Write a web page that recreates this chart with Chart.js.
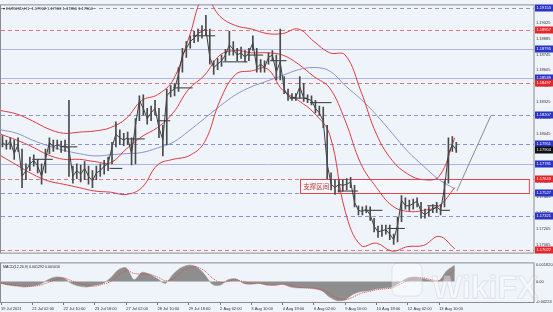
<!DOCTYPE html>
<html>
<head>
<meta charset="utf-8">
<script src="https://cdn.jsdelivr.net/npm/chart.js@4.4.0/dist/chart.umd.min.js"></script>
<style>
  html, body { margin: 0; padding: 0; background: #eef4fa; }
  #wrap { position: relative; width: 553px; height: 312px; overflow: hidden; background: #eef4fa; }
  #main { position: absolute; left: 0; top: 0; }
  #macd { position: absolute; left: 0; top: 258px; }
</style>
</head>
<body>
<div id="wrap">
  <canvas id="main" width="553" height="258"></canvas>
  <canvas id="macd" width="553" height="54"></canvas>
</div>
<script>
// EURUSD H1, 19 Jul - 13 Aug 2021
const symbolTitle = 'EURUSD,H1  1.17962 1.17963 1.17856 1.17904';
const macdTitle = 'MACD(12,26,9) 0.001292 0.001016';

// x axis: bar numbers of the time labels
const xTickIndex = [0, 32, 64, 96, 128, 160, 192, 224, 256, 288, 320, 352, 384, 416, 448];
const xTickLabels = ['19 Jul 2021', '21 Jul 02:00', '22 Jul 10:00', '23 Jul 18:00', '27 Jul 02:00',
  '28 Jul 10:00', '29 Jul 18:00', '2 Aug 02:00', '3 Aug 10:00', '4 Aug 18:00', '6 Aug 02:00',
  '9 Aug 10:00', '10 Aug 18:00', '12 Aug 02:00', '13 Aug 10:00'];

const priceTicks = [1.19025, 1.18885, 1.18745, 1.18605, 1.18465, 1.18325, 1.18185, 1.18045,
  1.17905, 1.17765, 1.17625, 1.17485, 1.17345, 1.17205, 1.17065];
const macdTicks = [0.00182, 0, -0.00224];
const macdTickLabels = ['0.001820', '0.00', '-0.00224'];

// price, one entry per 4 hourly bars
const barStep = 4;
const priceHigh = [1.1803,1.1799,1.1801,1.1799,1.1801,1.1791,1.1778,1.1784,1.1786,1.1782,
  1.1778,1.1791,1.1801,1.1799,1.1799,1.1798,1.1799,1.1834,1.1776,1.1778,
  1.1777,1.1780,1.1776,1.1772,1.1776,1.1778,1.1781,1.1784,1.1797,1.1815,
  1.1808,1.1805,1.1806,1.1801,1.1818,1.1838,1.1839,1.1827,1.1829,1.1834,
  1.1827,1.1812,1.1844,1.1847,1.1849,1.1863,1.1880,1.1886,1.1891,1.1895,
  1.1897,1.1900,1.1909,1.1897,1.1869,1.1871,1.1874,1.1879,1.1895,1.1886,
  1.1880,1.1881,1.1878,1.1880,1.1891,1.1880,1.1870,1.1869,1.1876,1.1878,
  1.1874,1.1897,1.1855,1.1844,1.1840,1.1840,1.1855,1.1849,1.1839,1.1838,
  1.1834,1.1829,1.1828,1.1812,1.1770,1.1764,1.1764,1.1764,1.1765,1.1766,
  1.1759,1.1741,1.1740,1.1741,1.1740,1.1730,1.1723,1.1724,1.1724,1.1724,
  1.1716,1.1731,1.1750,1.1748,1.1746,1.1747,1.1748,1.1744,1.1738,1.1740,
  1.1742,1.1744,1.1742,1.1763,1.1801,1.1802,1.1797];
const priceLow = [1.1793,1.1791,1.1791,1.1782,1.1789,1.1757,1.1764,1.1772,1.1776,1.1770,
  1.1760,1.1770,1.1787,1.1789,1.1791,1.1788,1.1789,1.1767,1.1761,1.1765,
  1.1762,1.1764,1.1760,1.1757,1.1764,1.1767,1.1769,1.1772,1.1778,1.1793,
  1.1795,1.1794,1.1795,1.1777,1.1778,1.1816,1.1821,1.1813,1.1816,1.1821,
  1.1801,1.1785,1.1795,1.1837,1.1838,1.1842,1.1859,1.1872,1.1880,1.1885,
  1.1886,1.1889,1.1891,1.1866,1.1857,1.1861,1.1864,1.1869,1.1874,1.1874,
  1.1869,1.1871,1.1868,1.1869,1.1878,1.1859,1.1859,1.1859,1.1866,1.1869,
  1.1852,1.1852,1.1840,1.1834,1.1834,1.1834,1.1836,1.1833,1.1832,1.1830,
  1.1823,1.1821,1.1810,1.1765,1.1755,1.1751,1.1753,1.1754,1.1755,1.1757,
  1.1740,1.1733,1.1733,1.1735,1.1728,1.1718,1.1713,1.1714,1.1716,1.1711,
  1.1707,1.1709,1.1727,1.1738,1.1737,1.1738,1.1740,1.1730,1.1730,1.1732,
  1.1735,1.1735,1.1733,1.1740,1.1761,1.1789,1.1788];
const priceClose = [1.1797,1.1794,1.1798,1.1787,1.1795,1.1767,1.1772,1.1778,1.1781,1.1776,
  1.1767,1.1782,1.1797,1.1793,1.1795,1.1793,1.1794,1.1791,1.1767,1.1772,
  1.1769,1.1774,1.1767,1.1763,1.1770,1.1772,1.1776,1.1778,1.1793,1.1804,
  1.1801,1.1799,1.1801,1.1787,1.1812,1.1834,1.1827,1.1818,1.1823,1.1827,
  1.1810,1.1799,1.1838,1.1842,1.1844,1.1857,1.1874,1.1880,1.1886,1.1889,
  1.1893,1.1895,1.1897,1.1872,1.1863,1.1866,1.1869,1.1874,1.1883,1.1879,
  1.1874,1.1876,1.1872,1.1876,1.1885,1.1863,1.1866,1.1863,1.1872,1.1874,
  1.1859,1.1868,1.1844,1.1838,1.1836,1.1837,1.1846,1.1836,1.1835,1.1834,
  1.1827,1.1823,1.1816,1.1778,1.1760,1.1757,1.1760,1.1759,1.1760,1.1762,
  1.1744,1.1737,1.1736,1.1738,1.1733,1.1723,1.1718,1.1719,1.1720,1.1716,
  1.1711,1.1724,1.1746,1.1741,1.1741,1.1743,1.1745,1.1736,1.1733,1.1736,
  1.1738,1.1740,1.1737,1.1757,1.1787,1.1795,1.17904];
const currentPrice = 1.17904;

// Bollinger bands and moving average, one entry per 16 bars
const bandStep = 16;
const bbUpper = [1.1825,1.1822,1.1816,1.1809,1.1805,1.1806,1.1807,1.1810,1.1818,1.1834,
  1.1839,1.1852,1.1889,1.1926,1.1908,1.1900,1.1897,1.1893,1.1893,1.1897,
  1.1886,1.1876,1.1874,1.1842,1.1804,1.1781,1.1769,1.1764,1.1767,1.1801];
const bbMiddle = [1.1804,1.1799,1.1793,1.1786,1.1782,1.1782,1.1780,1.1779,1.1791,1.1802,
  1.1810,1.1823,1.1844,1.1856,1.1874,1.1878,1.1876,1.1876,1.1874,1.1866,
  1.1855,1.1845,1.1816,1.1778,1.1757,1.1741,1.1736,1.1737,1.1741,1.1757];
const bbLower = [1.1785,1.1777,1.1769,1.1763,1.1760,1.1757,1.1754,1.1753,1.1751,1.1757,
  1.1777,1.1782,1.1785,1.1797,1.1834,1.1857,1.1860,1.1862,1.1843,1.1834,
  1.1823,1.1804,1.1736,1.1706,1.1708,1.1701,1.1705,1.1706,1.1714,1.1703];
const maLine = [1.1808,1.1805,1.1799,1.1794,1.1790,1.1787,1.1785,1.1786,1.1787,1.1788,
  1.1792,1.1797,1.1807,1.1818,1.1829,1.1839,1.1846,1.1851,1.1856,1.1861,
  1.1863,1.1860,1.1847,1.1835,1.1821,1.1805,1.1789,1.1776,1.1764,1.1756];

// daily level strokes
const segStart = [32, 62, 111, 129, 160, 176, 196, 227, 252, 275, 295, 316, 344, 372, 395, 436, 449];
const segEnd   = [53, 78, 124, 147, 173, 196, 219, 252, 268, 292, 314, 338, 365, 390, 413, 447, 459];
const segLevel = [1.1782, 1.1793, 1.1774, 1.1800, 1.1816, 1.1845, 1.1891, 1.1868, 1.1874,
  1.1869, 1.1836, 1.1832, 1.1754, 1.1737, 1.1721, 1.1741, 1.1737];

// horizontal levels drawn by the analyst
const levelPrice = [1.19153, 1.18957, 1.18795, 1.18539, 1.18497, 1.18207, 1.17951, 1.17781,
  1.17643, 1.17527, 1.17321, 1.17022];
const levelKind = ['greyDash', 'redDash', 'solid', 'solid', 'redDash', 'blueDash', 'blueDash',
  'solid', 'redDash', 'blueDash', 'blueDash', 'redDash'];

// support zone and projected path
const zoneLabel = '支撑区间';
const zoneTop = 1.17643, zoneBottom = 1.17527;
const zoneFrom = 306, zoneTo = 540;
const projBar = [466, 501];
const projPrice = [1.1754, 1.18207];

// MACD, one entry per 8 bars
const macdStep = 8;
const macdHist = [-0.0002,-0.0004,-0.0005,-0.0006,-0.0005,-0.0003,0.0002,0.0005,0.0004,-0.0002,
  -0.0005,-0.0006,-0.0004,-0.0002,0.0004,0.0013,0.0015,0.0002,0.0010,0.0008,
  0.0003,-0.0002,0.0008,0.0015,0.0018,0.0016,0.0008,-0.0003,-0.0004,0.0002,
  0.0003,-0.0002,-0.0003,-0.0002,-0.0004,-0.0004,-0.0003,-0.0006,-0.0007,-0.0007,
  -0.0008,-0.0010,-0.0017,-0.0021,-0.0020,-0.0014,-0.0011,-0.0010,-0.0008,-0.0007,
  -0.0006,-0.0001,0.0004,0.0005,0.0003,0.0001,0.0001,0.0012,0.0018];
const macdSignal = [-0.0002,-0.0003,-0.0004,-0.0005,-0.0005,-0.0004,-0.0001,0.0002,0.0004,0.0001,
  -0.0002,-0.0004,-0.0005,-0.0003,0.0000,0.0007,0.0012,0.0009,0.0008,0.0008,
  0.0005,0.0001,0.0003,0.0010,0.0015,0.0016,0.0012,0.0004,-0.0001,0.0000,
  0.0002,0.0000,-0.0002,-0.0002,-0.0003,-0.0004,-0.0003,-0.0004,-0.0006,-0.0007,
  -0.0007,-0.0009,-0.0013,-0.0018,-0.0020,-0.0017,-0.0013,-0.0011,-0.0009,-0.0008,
  -0.0007,-0.0003,0.0001,0.0004,0.0004,0.0002,0.0001,0.0006,0.0013];

const FONT = '"Liberation Sans", Arial, sans-serif';
Chart.defaults.font.family = FONT;
Chart.defaults.animation = false;

const lineStyle = {
  greyDash: { color: 'rgba(130,135,160,0.85)', dash: [4, 3] },
  redDash: { color: 'rgba(226,110,115,0.95)', dash: [4, 3] },
  blueDash: { color: 'rgba(120,128,210,0.85)', dash: [4, 3] },
  solid: { color: 'rgba(160,168,215,0.8)', dash: [] }
};
const tagColor = { greyDash: '#2a33c4', redDash: '#e4262b', blueDash: '#2a33c4', solid: '#2a33c4' };

function toPoints(values, step, shift) {
  return values.map((v, i) => ({ x: i * step + shift, y: v }));
}

function drawTag(ctx, x, y, text, color) {
  ctx.fillStyle = color;
  ctx.fillRect(x, Math.round(y) - 3.5, 18, 7);
  ctx.fillStyle = '#fff';
  ctx.font = '4px ' + FONT;
  ctx.textAlign = 'left';
  ctx.textBaseline = 'middle';
  ctx.fillText(text, x + 1.5, Math.round(y));
}

const framePlugin = {
  id: 'frame',
  afterDraw(chart) {
    const { ctx, chartArea: a } = chart;
    ctx.save();
    ctx.strokeStyle = '#8c8c8c';
    ctx.lineWidth = 1;
    ctx.strokeRect(a.left - 0.5, a.top + 0.5, a.right - a.left + 0.5, a.bottom - a.top - 1);
    ctx.restore();
  }
};

// levels, support zone (under the series)
const levelsPlugin = {
  id: 'levels',
  beforeDatasetsDraw(chart) {
    const { ctx, chartArea: a, scales } = chart;
    ctx.save();
    ctx.lineWidth = 1;
    levelPrice.forEach((p, i) => {
      const st = lineStyle[levelKind[i]];
      const y = Math.round(scales.y.getPixelForValue(p)) + 0.5;
      ctx.strokeStyle = st.color;
      ctx.setLineDash(st.dash);
      ctx.beginPath();
      ctx.moveTo(a.left, y);
      ctx.lineTo(a.right, y);
      ctx.stroke();
    });
    ctx.setLineDash([]);
    const x1 = scales.x.getPixelForValue(zoneFrom), x2 = scales.x.getPixelForValue(zoneTo);
    const y1 = Math.round(scales.y.getPixelForValue(zoneTop)) + 0.5;
    const y2 = Math.round(scales.y.getPixelForValue(zoneBottom)) + 0.5;
    ctx.fillStyle = 'rgba(255,255,255,0.35)';
    ctx.fillRect(x1, y1, x2 - x1, y2 - y1);
    ctx.strokeStyle = '#e0474c';
    ctx.strokeRect(Math.round(x1) + 0.5, y1, x2 - x1, y2 - y1);
    ctx.fillStyle = '#b8302f';
    ctx.font = '6.5px "Noto Sans CJK SC", sans-serif';
    ctx.textBaseline = 'middle';
    ctx.fillText(zoneLabel, x1 + 3, (y1 + y2) / 2 + 0.5);
    ctx.restore();
  },
  afterDraw(chart) {
    const { ctx, chartArea: a, scales } = chart;
    ctx.save();
    levelPrice.forEach((p, i) => drawTag(ctx, a.right + 1, scales.y.getPixelForValue(p), p.toFixed(5), tagColor[levelKind[i]]));
    drawTag(ctx, a.right + 1, scales.y.getPixelForValue(currentPrice), currentPrice.toFixed(5), '#111');
    ctx.fillStyle = '#222';
    ctx.font = '4px ' + FONT;
    ctx.textBaseline = 'middle';
    ctx.fillText('\u25BE ' + symbolTitle, a.left + 2, a.top + 4);
    ctx.restore();
  }
};

const segData = [];
segStart.forEach((s, i) => {
  segData.push({ x: s, y: segLevel[i] }, { x: segEnd[i], y: segLevel[i] }, { x: segEnd[i], y: null });
});

const lineDefaults = { type: 'line', pointRadius: 0, borderWidth: 1, fill: false };

new Chart(document.getElementById('main'), {
  type: 'bar',
  data: {
    datasets: [
      {
        type: 'bar', label: 'High-Low',
        data: priceHigh.map((h, k) => ({ x: k * barStep + 1.5, y: [priceLow[k], h] })),
        backgroundColor: '#4a4a4a', barThickness: 1, grouped: false
      },
      { ...lineDefaults, label: 'Close', data: toPoints(priceClose, barStep, 1.5), borderColor: '#2a2a2a', borderWidth: 0.9 },
      { ...lineDefaults, label: 'Daily', data: segData, borderColor: '#333', borderWidth: 1, spanGaps: false },
      {
        ...lineDefaults, label: 'Projection',
        data: projBar.map((b, i) => ({ x: b, y: projPrice[i] })), borderColor: '#8a8a8a'
      },
      { ...lineDefaults, label: 'BB upper', data: toPoints(bbUpper, bandStep, 0), borderColor: '#df3b40', tension: 0.4 },
      { ...lineDefaults, label: 'BB middle', data: toPoints(bbMiddle, bandStep, 0), borderColor: '#df3b40', tension: 0.4 },
      { ...lineDefaults, label: 'BB lower', data: toPoints(bbLower, bandStep, 0), borderColor: '#df3b40', tension: 0.4 },
      { ...lineDefaults, label: 'MA', data: toPoints(maLine, bandStep, 0), borderColor: '#8d93c9', tension: 0.4 }
    ]
  },
  options: {
    responsive: false,
    events: [],
    layout: { padding: { left: 1, right: 0, top: 0, bottom: 0 } },
    plugins: { legend: { display: false }, tooltip: { enabled: false } },
    scales: {
      x: { type: 'linear', min: 0, max: 545, display: false, offset: false },
      y: {
        position: 'right', min: 1.16988, max: 1.19187,
        afterBuildTicks: s => { s.ticks = priceTicks.map(v => ({ value: v })); },
        afterFit: s => { s.width = 19; },
        grid: { display: false, drawTicks: false },
        border: { display: false },
        ticks: { font: { size: 4 }, color: '#333', padding: 2, autoSkip: false, callback: v => v.toFixed(5) }
      }
    }
  },
  plugins: [levelsPlugin, framePlugin]
});

const macdTextPlugin = {
  id: 'macdText',
  afterDraw(chart) {
    const { ctx, chartArea: a } = chart;
    ctx.save();
    // watermark
    ctx.globalAlpha = 0.4;
    ctx.strokeStyle = '#c3c8d0';
    ctx.fillStyle = '#ffffff';
    ctx.lineWidth = 1;
    ctx.beginPath();
    ctx.roundRect(392, 5, 30, 33, 6);
    ctx.fill();
    ctx.stroke();
    ctx.font = 'bold 32px ' + FONT;
    ctx.textBaseline = 'alphabetic';
    ctx.fillText('WikiFX', 432, 40);
    ctx.strokeText('WikiFX', 432, 40);
    ctx.globalAlpha = 1;
    ctx.fillStyle = '#222';
    ctx.font = '3.6px ' + FONT;
    ctx.textBaseline = 'middle';
    ctx.fillText(macdTitle, a.left + 2, a.top + 5);
    ctx.restore();
  }
};

new Chart(document.getElementById('macd'), {
  type: 'line',
  data: {
    datasets: [
      { ...lineDefaults, label: 'Signal', data: toPoints(macdSignal, macdStep, 0), borderColor: '#e04a4a', borderDash: [1, 1], tension: 0.3 },
      {
        ...lineDefaults, label: 'MACD', data: toPoints(macdHist, macdStep, 0),
        borderColor: '#8e8e8e', backgroundColor: '#8e8e8e', borderWidth: 0.5, fill: 'origin', tension: 0.3
      }
    ]
  },
  options: {
    responsive: false,
    events: [],
    layout: { padding: { left: 1, right: 0, top: 0, bottom: 0 } },
    plugins: { legend: { display: false }, tooltip: { enabled: false } },
    scales: {
      x: {
        type: 'linear', min: 0, max: 545, offset: false,
        afterBuildTicks: s => { s.ticks = xTickIndex.map(v => ({ value: v })); },
        afterFit: s => { s.height = 9; },
        grid: { display: true, drawOnChartArea: false, drawTicks: true, tickLength: 2, color: '#777' },
        border: { display: false },
        ticks: {
          font: { size: 4 }, color: '#333', padding: 1, align: 'start', maxRotation: 0,
          autoSkip: false, callback: (v, i) => xTickLabels[i]
        }
      },
      y: {
        position: 'right', min: -0.00235, max: 0.0021,
        afterBuildTicks: s => { s.ticks = macdTicks.map(v => ({ value: v })); },
        afterFit: s => { s.width = 19; },
        grid: { display: false, drawTicks: false },
        border: { display: false },
        ticks: { font: { size: 4 }, color: '#333', padding: 2, autoSkip: false, callback: (v, i) => macdTickLabels[i] }
      }
    }
  },
  plugins: [macdTextPlugin, framePlugin]
});
</script>
</body>
</html>
